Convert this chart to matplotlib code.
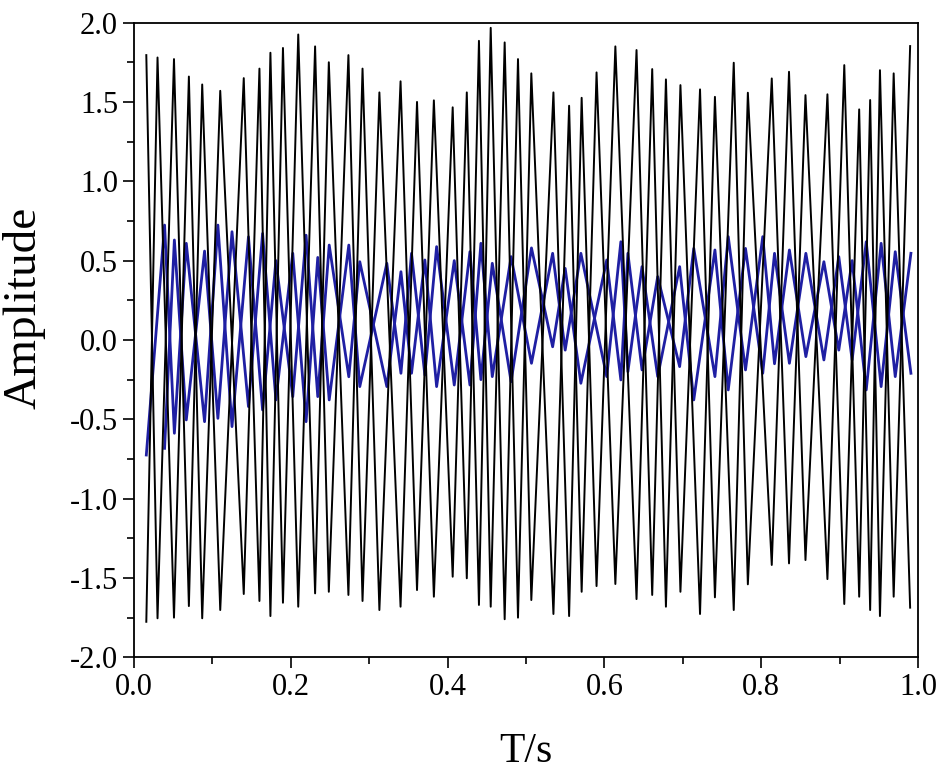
import matplotlib
matplotlib.use("Agg")
import matplotlib.pyplot as plt
from matplotlib.ticker import MultipleLocator, FormatStrFormatter
import numpy as np

# black signal: at each time slot the upper and the
# lower extreme (the trace swings through both at nearly the same time)
black_t = [0.0157, 0.030, 0.051, 0.070, 0.087, 0.110, 0.140, 0.160, 0.174, 0.190,
           0.2095, 0.231, 0.2485, 0.2735, 0.2915, 0.313, 0.340, 0.361, 0.3825, 0.4065,
           0.4245, 0.440, 0.455, 0.4728, 0.4898, 0.5068, 0.535, 0.555, 0.571, 0.590,
           0.614, 0.641, 0.661, 0.6785, 0.697, 0.722, 0.741, 0.765, 0.783, 0.8135,
           0.8355, 0.8565, 0.8845, 0.906, 0.925, 0.939, 0.9515, 0.969, 0.990]
black_hi = [1.795, 1.780, 1.770, 1.660, 1.610, 1.570, 1.650, 1.710, 1.810, 1.840,
            1.925, 1.850, 1.750, 1.795, 1.710, 1.560, 1.630, 1.500, 1.510, 1.466,
            1.560, 1.885, 1.967, 1.875, 1.770, 1.680, 1.560, 1.476, 1.526, 1.686,
            1.850, 1.827, 1.707, 1.642, 1.606, 1.579, 1.532, 1.747, 1.558, 1.648,
            1.690, 1.543, 1.548, 1.732, 1.453, 1.512, 1.700, 1.680, 1.852]
black_lo = [-1.776, -1.754, -1.750, -1.677, -1.754, -1.702, -1.601, -1.645, -1.740, -1.656,
            -1.681, -1.597, -1.587, -1.607, -1.645, -1.702, -1.681, -1.576, -1.618, -1.492,
            -1.502, -1.670, -1.681, -1.760, -1.750, -1.639, -1.727, -1.740, -1.587, -1.551,
            -1.538, -1.633, -1.607, -1.681, -1.587, -1.727, -1.622, -1.702, -1.540, -1.418,
            -1.408, -1.387, -1.507, -1.664, -1.618, -1.702, -1.740, -1.618, -1.687]

# blue signal, same layout (first slot has only the low value)
blue_t = [0.0157, 0.039, 0.0515, 0.0667, 0.090, 0.107, 0.125, 0.146, 0.164, 0.181,
          0.2025, 0.2195, 0.2344, 0.249, 0.274, 0.288, 0.3225, 0.3405, 0.354, 0.371,
          0.386, 0.4085, 0.4285, 0.4425, 0.457, 0.481, 0.507, 0.534, 0.550, 0.570,
          0.603, 0.621, 0.630, 0.648, 0.668, 0.696, 0.714, 0.741, 0.758, 0.780,
          0.802, 0.817, 0.836, 0.857, 0.880, 0.899, 0.916, 0.934, 0.953, 0.971, 0.991]
blue_hi = [np.nan, 0.724, 0.630, 0.609, 0.560, 0.724, 0.682, 0.650, 0.671, 0.500,
           0.546, 0.660, 0.520, 0.598, 0.598, 0.493, 0.483, 0.430, 0.546, 0.504,
           0.588, 0.500, 0.556, 0.609, 0.483, 0.525, 0.580, 0.546, 0.451, 0.546,
           0.504, 0.619, 0.546, 0.462, 0.399, 0.462, 0.577, 0.567, 0.651, 0.577,
           0.651, 0.546, 0.567, 0.546, 0.493, 0.525, 0.500, 0.619, 0.609, 0.556, 0.546]
blue_lo = [-0.725, -0.683, -0.588, -0.504, -0.515, -0.494, -0.546, -0.420, -0.441, -0.378,
           -0.357, -0.515, -0.357, -0.378, -0.232, -0.294, -0.294, -0.210, -0.210, -0.221,
           -0.294, -0.284, -0.284, -0.250, -0.231, -0.263, -0.147, -0.043, -0.064, -0.273,
           -0.231, -0.252, -0.200, -0.189, -0.231, -0.168, -0.378, -0.231, -0.315, -0.189,
           -0.210, -0.150, -0.147, -0.105, -0.126, -0.064, -0.126, -0.315, -0.294, -0.231, -0.210]


def zigzag(t, hi, lo, start_hi):
    # walk through the slots, taking hi and lo in turn
    ys = []
    take_hi = start_hi
    for h, l in zip(hi, lo):
        ys.append(h if take_hi else l)
        take_hi = not take_hi
    t = np.array(t)
    ys = np.array(ys, dtype=float)
    ok = ~np.isnan(ys)
    return t[ok], ys[ok]


plt.rcParams['font.family'] = ['Liberation Serif', 'DejaVu Serif']

fig = plt.figure(figsize=(9.45, 7.79), dpi=100)
ax = fig.add_axes([0.1418, 0.1562, 0.8296, 0.8148])

for start in (True, False):
    x, y = zigzag(blue_t, blue_hi, blue_lo, start)
    ax.plot(x, y, color='#1f1fa3', lw=2.0, zorder=2)
for start in (True, False):
    x, y = zigzag(black_t, black_hi, black_lo, start)
    ax.plot(x, y, color='black', lw=1.4, zorder=3)

ax.set_xlim(0, 1.0)
ax.set_ylim(-2.0, 2.0)
ax.xaxis.set_major_locator(MultipleLocator(0.2))
ax.xaxis.set_minor_locator(MultipleLocator(0.1))
ax.yaxis.set_major_locator(MultipleLocator(0.5))
ax.yaxis.set_minor_locator(MultipleLocator(0.25))
ax.xaxis.set_major_formatter(FormatStrFormatter('%.1f'))
ax.yaxis.set_major_formatter(FormatStrFormatter('%.1f'))
ax.tick_params(which='both', direction='out', top=False, right=False, width=1.2,
               labelsize=22)
ax.tick_params(which='major', length=8)
ax.tick_params(which='minor', length=5)
for s in ax.spines.values():
    s.set_linewidth(1.3)

ax.set_xlabel('T/s', fontsize=30, labelpad=22)
ax.set_ylabel('Amplitude', fontsize=34)
ax.yaxis.set_label_coords(-0.113, 0.55)

plt.savefig('out.png', dpi=100)
